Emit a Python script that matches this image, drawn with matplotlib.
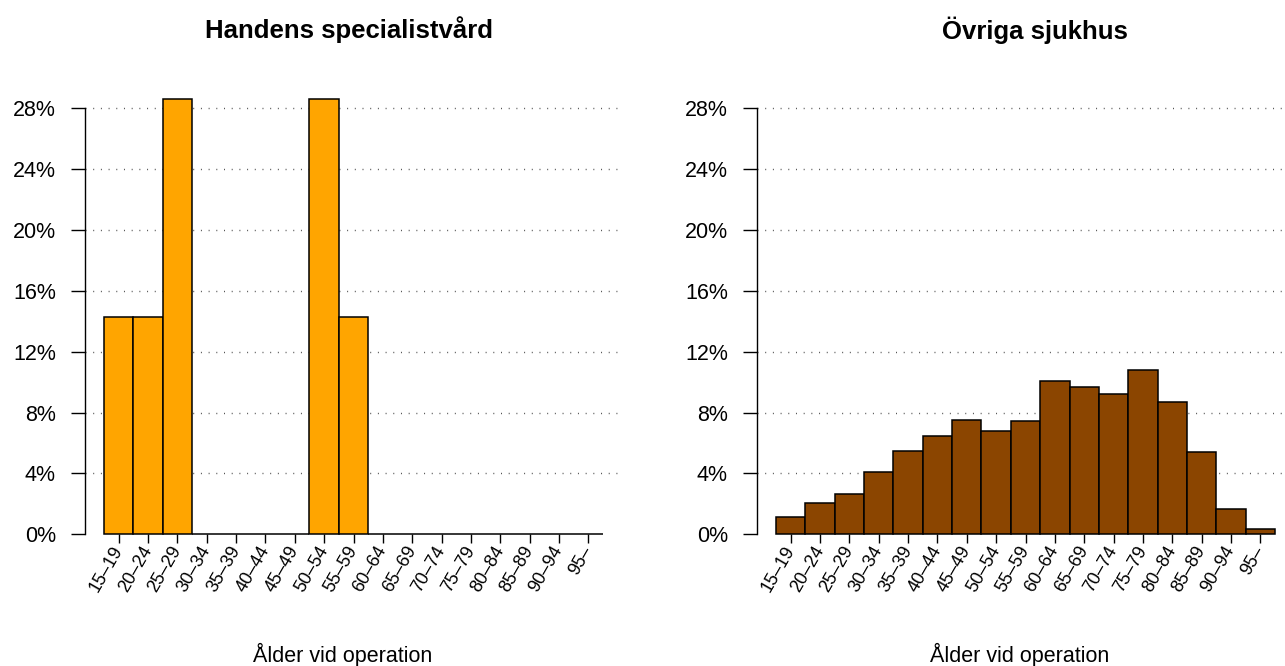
import matplotlib
matplotlib.use("Agg")
import matplotlib.pyplot as plt
import numpy as np

plt.rcParams['font.family'] = ['Liberation Sans', 'DejaVu Sans']
plt.rcParams['lines.scale_dashes'] = False

age_groups = ["15–19", "20–24", "25–29", "30–34", "35–39", "40–44", "45–49",
              "50–54", "55–59", "60–64", "65–69", "70–74", "75–79", "80–84",
              "85–89", "90–94", "95–"]

# percent of operations per age group
handens_pct = [14.3, 14.3, 28.6, 0, 0, 0, 0, 28.6, 14.3, 0, 0, 0, 0, 0, 0, 0, 0]
ovriga_pct = [1.14, 2.08, 2.64, 4.11, 5.49, 6.45, 7.54, 6.80, 7.45, 10.08,
              9.70, 9.22, 10.82, 8.70, 5.42, 1.64, 0.37]

y_ticks = [0, 4, 8, 12, 16, 20, 24, 28]
titles = ["Handens specialistvård", "Övriga sjukhus"]
x_label = "Ålder vid operation"

W, H = 1285, 666


def draw_panel(ax, values, color):
    x = np.arange(len(values))
    ax.set_xlim(-1.15, len(values) + 0.15)
    ax.set_ylim(0, 30)

    # dotted grid lines behind the bars
    for y in y_ticks[1:]:
        ax.axhline(y, color='#555555', lw=1.0, linestyle=(0, (0.72, 4.82)), zorder=0)
    ax.axhline(0, color='#444444', lw=0.7, zorder=1)

    ax.bar(x, values, width=1.0, color=color, edgecolor='black', linewidth=1.1,
           zorder=2, clip_on=False)

    for s in ['top', 'right', 'bottom']:
        ax.spines[s].set_visible(False)
    ax.spines['left'].set_bounds(0, 28)
    ax.spines['left'].set_linewidth(1.0)

    ax.set_yticks(y_ticks)
    ax.set_yticklabels([f"{t}%" for t in y_ticks], fontsize=15.5)
    ax.tick_params(axis='y', length=10, width=1.0, pad=11)

    ax.set_xticks(x)
    ax.set_xticklabels(age_groups, rotation=60, ha='right', va='center',
                       rotation_mode='anchor', fontsize=13)
    ax.tick_params(axis='x', length=6.5, width=1.0, pad=3)


def main():
    fig = plt.figure(figsize=(W / 100, H / 100), dpi=100)

    bottom = (H - 534.3) / H
    height = (534.3 - 77.9) / H
    width = 537 / W
    lefts = [85 / W, 757 / W]
    colors = ['#FFA500', '#8B4500']
    data = [handens_pct, ovriga_pct]
    title_x = [349, 1035]
    label_x = [343, 1020]

    for i in range(2):
        ax = fig.add_axes([lefts[i], bottom, width, height])
        draw_panel(ax, data[i], colors[i])
        fig.text(title_x[i] / W, 1 - 30 / H, titles[i], ha='center', va='center',
                 fontsize=18.5, fontweight='bold')
        fig.text(label_x[i] / W, 1 - 655 / H, x_label, ha='center', va='center',
                 fontsize=15.5)

    fig.savefig("out.png", dpi=100)


if __name__ == "__main__":
    main()
